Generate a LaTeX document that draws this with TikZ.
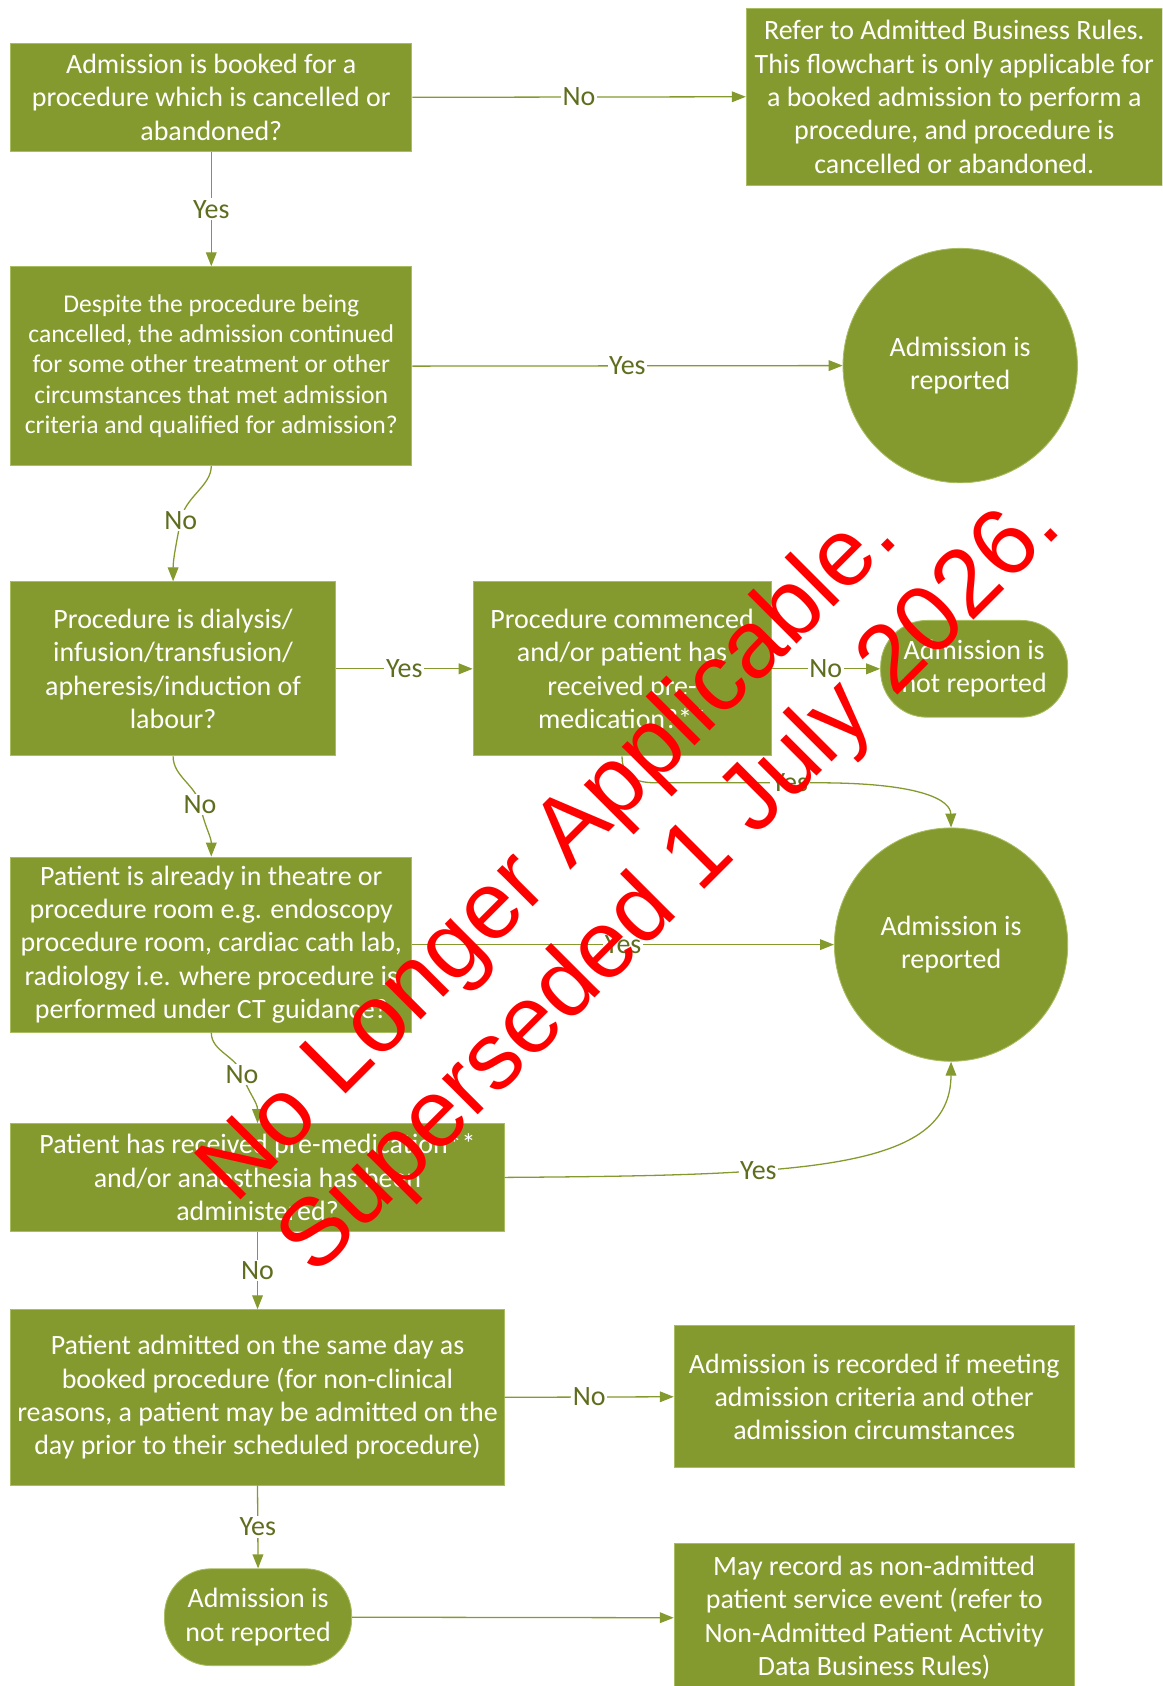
\documentclass[tikz,border=0pt]{standalone}
\usepackage{fontspec}
\setmainfont{Carlito}
\newfontfamily\wmfont{Liberation Sans}
\usetikzlibrary{arrows.meta,calc}
\definecolor{olivefill}{RGB}{132,154,46}
\definecolor{olivedark}{RGB}{94,110,30}
\definecolor{oliveedge}{RGB}{168,188,96}
\begin{document}
\begin{tikzpicture}[x=1pt,y=1pt,
  txt/.style={font=\fontsize{26}{31}\selectfont},
  box/.style={rectangle, fill=olivefill, draw=oliveedge, line width=0.8pt, text=white, align=center, inner sep=0pt, txt},
  circ/.style={circle, fill=olivefill, draw=oliveedge, line width=0.8pt, text=white, align=center, inner sep=0pt, minimum size=218, txt},
  term/.style={rectangle, rounded corners=43, fill=olivefill, draw=oliveedge, line width=0.8pt, text=white, align=center, inner sep=0pt, txt},
  conn/.style={draw=olivefill, line width=1.2pt, -{Triangle[length=13,width=10]}},
  lbl/.style={fill=white, text=olivedark, inner sep=1.5pt, txt},
  wm/.style={font=\wmfont\fontsize{89}{100}\selectfont, text=red, inner sep=0pt, rotate=45, anchor=base west}
]
\useasboundingbox (0,0) rectangle (1081,-1568);
\clip (0,0) rectangle (1081,-1568);

% nodes
\node[box, minimum width=373, minimum height=101] (b1) at (196.5,-90.5)
  {Admission is booked for a\\procedure which is cancelled or\\abandoned?};
\node[box, minimum width=387, minimum height=164] (b2) at (887.5,-90)
  {Refer to Admitted Business Rules.\\This flowchart is only applicable for\\a booked admission to perform a\\procedure, and procedure is\\cancelled or abandoned.};
\node[box, minimum width=373, minimum height=185, font=\fontsize{23.8}{28.3}\selectfont] (b3) at (196.5,-340.5)
  {Despite the procedure being\\cancelled, the admission continued\\for some other treatment or other\\circumstances that met admission\\criteria and qualified for admission?};
\node[circ] (c1) at (893,-340) {Admission is\\reported};
\node[box, minimum width=302, minimum height=162] (b4) at (161,-622)
  {Procedure is dialysis/\\infusion/transfusion/\\apheresis/induction of\\labour?};
\node[box, minimum width=277, minimum height=162] (b5) at (578.5,-622)
  {Procedure commenced\\and/or patient has\\received pre-\\medication?**};
\node[term, minimum width=174, minimum height=90] (b6) at (906,-622) {Admission is\\not reported};
\node[circ, minimum size=217] (c2) at (884.5,-878.5) {Admission is\\reported};
\node[box, minimum width=373, minimum height=163] (b7) at (196.5,-878.5)
  {Patient is already in theatre or\\procedure room e.g. endoscopy\\procedure room, cardiac cath lab,\\radiology i.e. where procedure is\\performed under CT guidance?};
\node[box, minimum width=459, minimum height=100] (b8) at (239.5,-1095)
  {Patient has received pre-medication**\\and/or anaesthesia has been\\administered?};
\node[box, minimum width=459, minimum height=163] (b9) at (239.5,-1299.5)
  {Patient admitted on the same day as\\booked procedure (for non-clinical\\reasons, a patient may be admitted on the\\day prior to their scheduled procedure)};
\node[box, minimum width=372, minimum height=132] (b10) at (813,-1299)
  {Admission is recorded if meeting\\admission criteria and other\\admission circumstances};
\node[term, minimum width=174, minimum height=90] (b11) at (240,-1504) {Admission is\\not reported};
\node[box, minimum width=372, minimum height=139] (b12) at (813,-1504.5)
  {May record as non-admitted\\patient service event (refer to\\Non-Admitted Patient Activity\\Data Business Rules)};

% connectors
\draw[conn] (b1.east) -- node[lbl, pos=0.5]{No} (b2.west);
\draw[conn] (b1.south) -- node[lbl, pos=0.5]{Yes} (b3.north);
\draw[conn] (b3.east) -- node[lbl, pos=0.5]{Yes} (c1.west);
\draw[conn] (b3.south) .. controls (196.5,-452) and (172,-462) .. node[lbl, pos=1]{No} (168,-484)
   .. controls (164,-505) and (161,-520) .. (b4.north);
\draw[conn] (b4.east) -- node[lbl, pos=0.5]{Yes} (b5.west);
\draw[conn] (b5.east) -- node[lbl, pos=0.5]{No} (b6.west);
\draw[conn] (b5.south) .. controls (578.5,-722) and (590,-728) .. (610,-728)
   -- node[lbl, pos=0.83]{Yes} (760,-728)
   .. controls (860,-728) and (884,-745) .. (c2.north);
\draw[conn] (b4.south) .. controls (161,-722) and (182,-730) .. node[lbl, pos=1]{No} (186,-748)
   .. controls (190,-768) and (196.5,-778) .. (b7.north);
\draw[conn] (b7.south) .. controls (196.5,-978) and (220,-982) .. node[lbl, pos=1]{No} (225,-999)
   .. controls (232,-1018) and (239.5,-1025) .. (b8.north);
\draw[conn] (b7.east) -- node[lbl, pos=0.5]{Yes} (c2.west);
\draw[conn] (b8.east) .. controls (750,-1093) and (884,-1088) .. node[lbl, pos=0.34]{Yes} (c2.south);
\draw[conn] (b8.south) -- node[lbl, pos=0.5]{No} (b9.north);
\draw[conn] (b9.east) -- node[lbl, pos=0.5]{No} (b10.west);
\draw[conn] (b9.south) -- node[lbl, pos=0.5]{Yes} (b11.north);
\draw[conn] (b11.east) -- (b12.west);

% watermark
\node[wm] (wm1) at (219,-1121) {No Longer Applicable.};
\node[wm] (wm2) at (293.5,-1188.5) {Superseded 1 July 2026.};
\end{tikzpicture}
\end{document}
